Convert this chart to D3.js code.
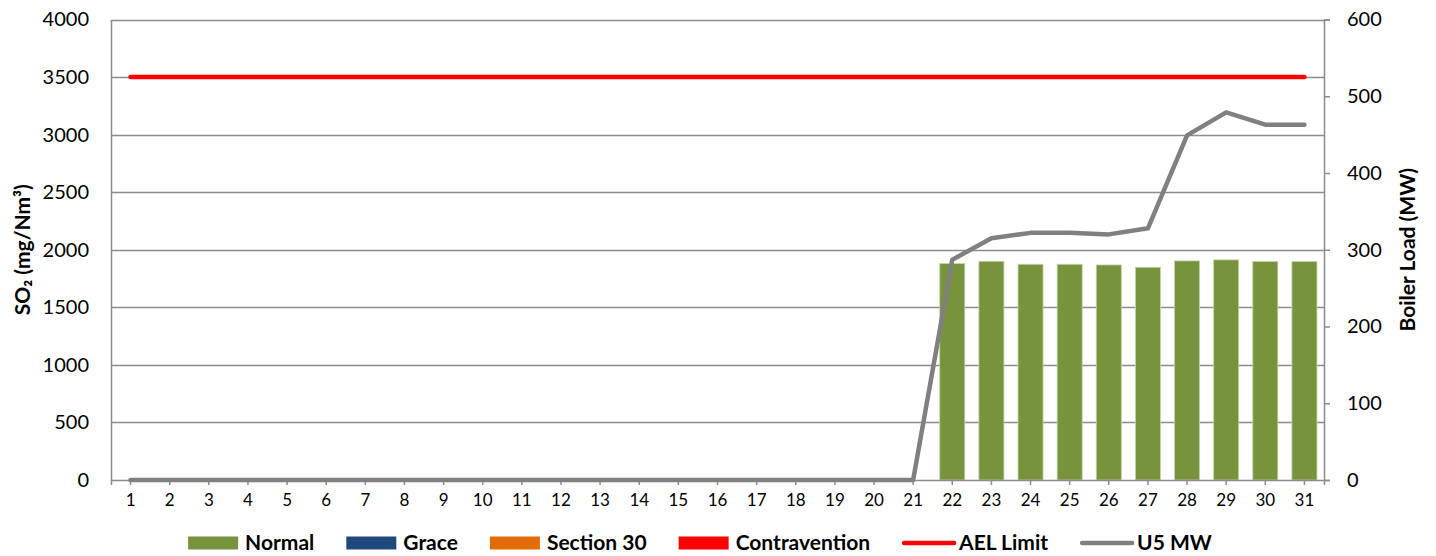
<!DOCTYPE html>
<html>
<head>
<meta charset="utf-8">
<script src="https://cdn.jsdelivr.net/npm/d3@7"></script>
<style>
  html, body { margin: 0; padding: 0; background: #fff; }
  svg { display: block; font-family: Lato, "Liberation Sans", sans-serif; }
</style>
</head>
<body>
<svg id="chart" width="1436" height="556"></svg>
<script>
// ---- data ----
const days = [1,2,3,4,5,6,7,8,9,10,11,12,13,14,15,16,17,18,19,20,21,22,23,24,25,26,27,28,29,30,31];
const normal = [0,0,0,0,0,0,0,0,0,0,0,0,0,0,0,0,0,0,0,0,0,1880,1900,1874,1874,1868,1848,1903,1912,1898,1898];
const grace = [0,0,0,0,0,0,0,0,0,0,0,0,0,0,0,0,0,0,0,0,0,0,0,0,0,0,0,0,0,0,0];
const section30 = [0,0,0,0,0,0,0,0,0,0,0,0,0,0,0,0,0,0,0,0,0,0,0,0,0,0,0,0,0,0,0];
const contravention = [0,0,0,0,0,0,0,0,0,0,0,0,0,0,0,0,0,0,0,0,0,0,0,0,0,0,0,0,0,0,0];
const aelLimit = [3500,3500,3500,3500,3500,3500,3500,3500,3500,3500,3500,3500,3500,3500,3500,3500,3500,3500,3500,3500,3500,3500,3500,3500,3500,3500,3500,3500,3500,3500,3500];
const u5mw = [0,0,0,0,0,0,0,0,0,0,0,0,0,0,0,0,0,0,0,0,0,287,315,322,322,320,328,449,479,463,463];
const leftTicks = [0,500,1000,1500,2000,2500,3000,3500,4000];
const rightTicks = [0,100,200,300,400,500,600];
const leftTitle = "SO₂ (mg/Nm³)";
const rightTitle = "Boiler Load (MW)";
const barSeries = [
  {name: "Normal", values: normal, color: "#77933C"},
  {name: "Grace", values: grace, color: "#1F497D"},
  {name: "Section 30", values: section30, color: "#E36C09"},
  {name: "Contravention", values: contravention, color: "#FF0000"}
];
const lineSeries = [
  {name: "AEL Limit", values: aelLimit, color: "#FF0000", axis: "left"},
  {name: "U5 MW", values: u5mw, color: "#808080", axis: "right"}
];

// ---- layout ----
const L = 111, R = 1324, T = 19.5, B = 480;
const gridColor = "#8c8c8c";
const svg = d3.select("#chart");

const x = d3.scaleBand().domain(days).range([L, R]).paddingInner(0.36).paddingOuter(0.18);
const yL = d3.scaleLinear().domain([0, 4000]).range([B, T]);
const yR = d3.scaleLinear().domain([0, 600]).range([B, T]);
const cx = d => x(d) + x.bandwidth() / 2;

// gridlines
svg.append("g").selectAll("line").data(leftTicks.filter(v => v > 0)).join("line")
  .attr("x1", L).attr("x2", R)
  .attr("y1", d => Math.round(yL(d)) + 0.5).attr("y2", d => Math.round(yL(d)) + 0.5)
  .attr("stroke", gridColor).attr("stroke-width", 1.5);

// stacked bars
const stackData = days.map((d, i) => {
  const o = {day: d};
  barSeries.forEach(s => o[s.name] = s.values[i]);
  return o;
});
const stack = d3.stack().keys(barSeries.map(s => s.name))(stackData);
stack.forEach((layer, k) => {
  svg.append("g").selectAll("rect").data(layer.filter(p => p[1] - p[0] > 0)).join("rect")
    .attr("x", p => x(p.data.day))
    .attr("width", x.bandwidth())
    .attr("y", p => yL(p[1]))
    .attr("height", p => yL(p[0]) - yL(p[1]))
    .attr("fill", barSeries[k].color)
    .attr("stroke", "#c4d6a8").attr("stroke-width", 0.8);
});

// left axis
const gL = svg.append("g").attr("transform", `translate(${L},0)`)
  .call(d3.axisLeft(yL).tickValues(leftTicks).tickFormat(d3.format("d")).tickSize(0).tickPadding(22));
gL.select(".domain").attr("stroke", gridColor).attr("stroke-width", 1.5);
gL.selectAll("text").attr("font-size", 20).attr("fill", "#000").attr("font-family", "Lato");

// right axis
const gR = svg.append("g").attr("transform", `translate(${R},0)`)
  .call(d3.axisRight(yR).tickValues(rightTicks).tickFormat(d3.format("d")).tickSize(6).tickPadding(17));
gR.select(".domain").attr("stroke", gridColor).attr("stroke-width", 1.5);
gR.selectAll(".tick line").attr("stroke", gridColor).attr("stroke-width", 1.5);
gR.selectAll("text").attr("font-size", 20).attr("fill", "#000").attr("font-family", "Lato");

// bottom axis
const gB = svg.append("g").attr("transform", `translate(0,${B})`)
  .call(d3.axisBottom(x).tickSize(5).tickPadding(9));
gB.select(".domain").attr("stroke", gridColor).attr("stroke-width", 1.5);
gB.selectAll(".tick line").attr("stroke", gridColor).attr("stroke-width", 1.5);
gB.selectAll("text").attr("font-size", 17).attr("fill", "#000").attr("font-family", "Lato");

// lines
lineSeries.forEach(s => {
  const sc = s.axis === "left" ? yL : yR;
  const line = d3.line().x((v, i) => cx(days[i])).y(v => sc(v));
  svg.append("path").datum(s.values)
    .attr("d", line).attr("fill", "none")
    .attr("stroke", s.color).attr("stroke-width", 4.5)
    .attr("stroke-linejoin", "round").attr("stroke-linecap", "round");
});

// axis titles
svg.append("text").attr("transform", `translate(30,${(T + B) / 2}) rotate(-90)`)
  .attr("text-anchor", "middle").attr("font-weight", "bold").attr("font-size", 21)
  .text(leftTitle);
svg.append("text").attr("transform", `translate(1415,${(T + B) / 2}) rotate(-90)`)
  .attr("text-anchor", "middle").attr("font-weight", "bold").attr("font-size", 21)
  .text(rightTitle);

// legend
const legendItems = barSeries.map(s => ({name: s.name, color: s.color, type: "bar"}))
  .concat(lineSeries.map(s => ({name: s.name, color: s.color, type: "line"})));
const lg = svg.append("g");
let cursor = 0;
const ly = 543;
legendItems.forEach(it => {
  const g = lg.append("g").attr("transform", `translate(${cursor},0)`);
  if (it.type === "bar") {
    g.append("rect").attr("x", 0).attr("y", ly - 6.5).attr("width", 50).attr("height", 13).attr("fill", it.color);
  } else {
    g.append("line").attr("x1", 2).attr("x2", 52).attr("y1", ly).attr("y2", ly)
      .attr("stroke", it.color).attr("stroke-width", 4.5).attr("stroke-linecap", "round");
  }
  const t = g.append("text").attr("x", 57).attr("y", ly + 7)
    .attr("font-weight", "bold").attr("font-size", 21).text(it.name);
  const w = t.node().getComputedTextLength();
  cursor += 57 + w + 32;
});
const totalW = cursor - 32;
lg.attr("transform", `translate(${700 - totalW / 2},0)`);
</script>
</body>
</html>
